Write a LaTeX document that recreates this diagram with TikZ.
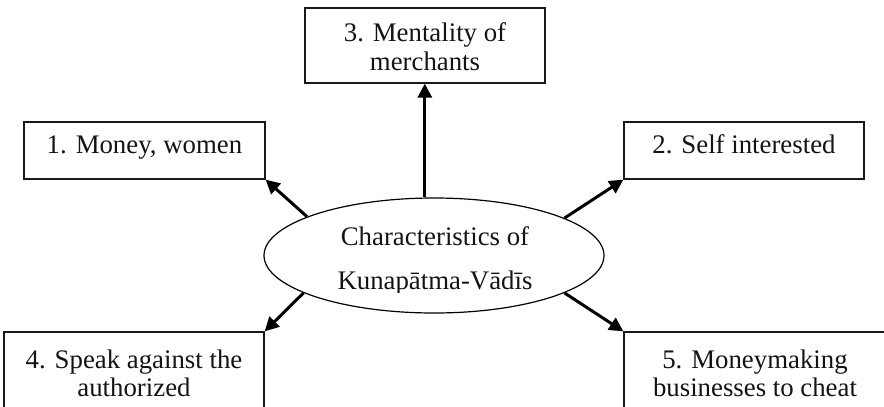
\documentclass[tikz,border=0pt]{standalone}
\usepackage{fontspec}
\setmainfont{Liberation Serif}
\usetikzlibrary{arrows.meta,shapes.geometric}
\begin{document}
\begin{tikzpicture}[x=1pt,y=-1pt,
  box/.style={draw=black!90, line width=1.3pt, rectangle, inner sep=0pt},
  lbl/.style={font=\fontsize{26.8}{30}\selectfont, text=black!92, inner sep=0pt, anchor=base},
  arr/.style={line width=3pt, black, -{Triangle[length=14pt,width=14pt]}}]
\clip (0,0) rectangle (884,407);

% central ellipse
\node[draw, ellipse, line width=1.2pt, minimum width=340pt, minimum height=115pt, inner sep=0pt] (c) at (434,255.5) {};
\begin{scope}
  \clip (260,200) rectangle (610,292.5);
  \node[lbl] (ca) at (435,245) {Characteristics of};
  \node[lbl] (cb) at (435,289.5) {Kunapātma-Vādīs};
\end{scope}

% surrounding boxes
\node[box, minimum width=241pt, minimum height=57pt] (b1) at (144.5,150.5) {};
\node[box, minimum width=240pt, minimum height=57pt] (b2) at (744,150.5) {};
\node[box, minimum width=240pt, minimum height=75pt] (b3) at (425,45.5) {};
\node[box, minimum width=260pt, minimum height=100pt] (b4) at (134,382) {};
\node[box, minimum width=262pt, minimum height=100pt] (b5) at (755,382) {};

% box texts
\node[lbl] (t1) at (144.5,153.5) {1. Money, women};
\node[lbl] (t2) at (744,153.5) {2. Self interested};
\node[lbl] (t3a) at (425,41) {3. Mentality of};
\node[lbl] (t3b) at (425,70) {merchants};
\node[lbl] (t4a) at (134,368) {4. Speak against the};
\node[lbl] (t4b) at (134,396) {authorized};
\node[lbl] (t5a) at (755,368) {5. Moneymaking};
\node[lbl] (t5b) at (755,396) {businesses to cheat};

% connectors
\draw[arr] (c.99.9) -- (b3.south -| c.99.9);
\draw[arr] (c.163.4) -- (b1.south east);
\draw[arr] (c.16.6) -- (b2.south west);
\draw[arr] (c.196.3) -- (b4.north east);
\draw[arr] (c.344.2) -- (b5.north west);
\end{tikzpicture}
\end{document}
